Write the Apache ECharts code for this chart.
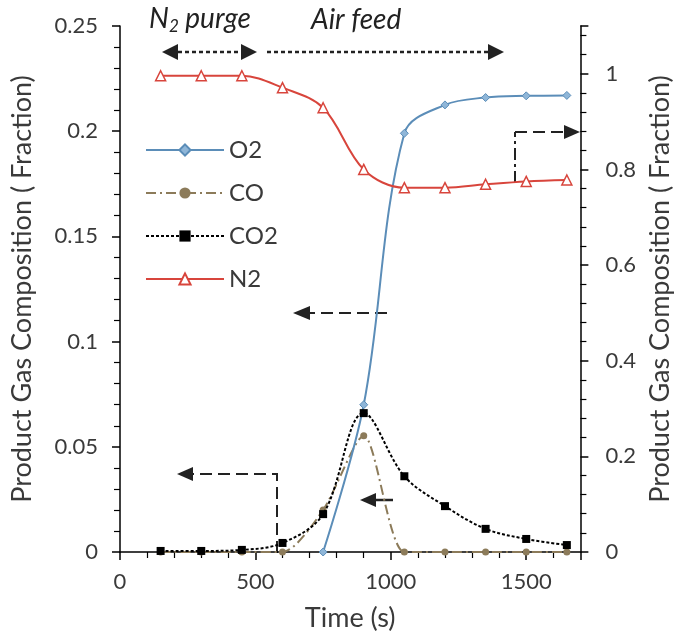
<!DOCTYPE html>
<html>
<head>
<meta charset="utf-8">
<script src="https://cdn.jsdelivr.net/npm/echarts@6/dist/echarts.min.js"></script>
<style>
  html, body { margin: 0; padding: 0; background: #fff; }
  #chart { width: 682px; height: 637px; }
</style>
</head>
<body>
<div id="chart"></div>
<script>
const time = [150, 300, 450, 600, 750, 900, 1050, 1200, 1350, 1500, 1650]
const o2 = [null, null, null, null, 0, 0.070, 0.199, 0.2125, 0.216, 0.2168, 0.217]
const co = [0, 0, 0, 0, 0.020, 0.0553, 0, 0, 0, 0, 0]
const co2 = [0.0005, 0.0005, 0.001, 0.0043, 0.018, 0.066, 0.036, 0.0218, 0.011, 0.0062, 0.0033]
const n2 = [0.996, 0.996, 0.996, 0.971, 0.929, 0.80, 0.762, 0.762, 0.769, 0.775, 0.778]

const pairs = ys => time.map((t, i) => [t, ys[i]]).filter(p => p[1] !== null)

const font = 'Lato, "Open Sans", sans-serif'
const ink = '#222'
const txt = '#3a3a3a'

function head (x, y, dir, l, h) {
  // filled arrow head, tip at (x, y)
  const pts = dir === 'left'
    ? [[x, y], [x + l, y - h], [x + l, y + h]]
    : [[x, y], [x - l, y - h], [x - l, y + h]]
  return { type: 'polygon', shape: { points: pts }, style: { fill: ink } }
}
function path (pts, dash, w) {
  return { type: 'polyline', shape: { points: pts }, style: { stroke: ink, lineWidth: w || 2, lineDash: dash, fill: null } }
}

const dom = document.getElementById('chart')
const myChart = echarts.init(dom)
const axisBase = {
  axisLine: { show: true, lineStyle: { color: '#000', width: 1.5 } },
  axisTick: { show: true, length: 8, lineStyle: { color: '#000', width: 1.5 } },
  minorTick: { show: true, splitNumber: 5, length: 6, lineStyle: { color: '#000', width: 1.2 } },
  splitLine: { show: false },
  axisLabel: { color: txt, fontSize: 22, fontFamily: font, showMaxLabel: false },
  nameTextStyle: { color: txt, fontSize: 27, fontFamily: font }
}
const option = {
  animation: false,
  grid: { left: 120, right: 85, top: 26, bottom: 83 },
  xAxis: Object.assign({}, axisBase, {
    type: 'value', min: 0, max: 1700, interval: 500,
    axisLabel: Object.assign({}, axisBase.axisLabel, { margin: 19, formatter: v => String(v) }),
    name: 'Time (s)', nameLocation: 'middle', nameGap: 53
  }),
  yAxis: [
    Object.assign({}, axisBase, {
      type: 'value', min: 0, max: 0.25, interval: 0.05,
      axisLabel: Object.assign({}, axisBase.axisLabel, { showMaxLabel: true, margin: 22 }),
      name: 'Product Gas Composition ( Fraction)', nameLocation: 'middle', nameGap: 84
    }),
    Object.assign({}, axisBase, {
      type: 'value', min: 0, max: 1.1, interval: 0.2, position: 'right',
      axisLabel: Object.assign({}, axisBase.axisLabel, { margin: 25 }),
      name: 'Product Gas Composition ( Fraction)', nameLocation: 'middle', nameGap: 52,
      nameRotate: 90
    })
  ],
  legend: {
    orient: 'vertical', left: 140, top: 132,
    itemWidth: 78, itemHeight: 14, itemGap: 17,
    textStyle: { color: txt, fontSize: 24, lineHeight: 26, fontFamily: font },
    data: ['O2', 'CO', 'CO2', 'N2']
  },
  series: [
    {
      name: 'O2', type: 'line', data: pairs(o2), smooth: 0.35, z: 3,
      symbol: 'diamond', symbolSize: 8,
      lineStyle: { color: '#5b8db8', width: 2 },
      itemStyle: { color: '#8fb6d8', borderColor: '#5b8db8', borderWidth: 1 }
    },
    {
      name: 'CO', type: 'line', data: pairs(co), smooth: 0.25, z: 2,
      symbol: 'circle', symbolSize: 7,
      lineStyle: { color: '#8c7b5a', width: 2, type: [10, 4, 2, 4] },
      itemStyle: { color: '#8c7b5a' }
    },
    {
      name: 'CO2', type: 'line', data: pairs(co2), smooth: 0.35, z: 4,
      symbol: 'rect', symbolSize: 8,
      lineStyle: { color: '#000', width: 2, type: [3, 2] },
      itemStyle: { color: '#000' }
    },
    {
      name: 'N2', type: 'line', yAxisIndex: 1, data: pairs(n2), smooth: 0.35, z: 3,
      symbol: 'triangle', symbolSize: 10,
      lineStyle: { color: '#d8453c', width: 2 },
      itemStyle: { color: '#fff', borderColor: '#d8453c', borderWidth: 1.5 }
    }
  ],
  graphic: [
    {
      type: 'text', left: 149, top: 5,
      style: {
        text: '{i|N}{s|2}{i| purge}', fill: ink,
        rich: {
          i: { fontSize: 28, fontStyle: 'italic', fontFamily: font, fill: ink },
          s: { fontSize: 17, fontStyle: 'italic', fontFamily: font, fill: ink, padding: [15, 0, 0, 0] }
        }
      }
    },
    { type: 'text', left: 311, top: 6, style: { text: 'Air feed', fontSize: 28, fontStyle: 'italic', fontFamily: font, fill: ink } },
    path([[178, 52], [242, 52]], [4, 3], 2.5), head(162, 52, 'left', 16, 8), head(257, 52, 'right', 16, 8),
    path([[267, 52], [488, 52]], [4, 3], 2.5), head(504, 52, 'right', 16, 8),
    path([[515, 183], [515, 132]], [12, 4, 3, 4]), path([[515, 132], [564, 132]], [12, 6]), head(580, 132, 'right', 16, 7),
    path([[387, 313], [310, 313]], [12, 6]), head(293, 313, 'left', 17, 7),
    path([[277, 553], [277, 474], [192, 474]], [12, 6]), head(177, 474, 'left', 16, 7),
    path([[393, 500], [375, 500]], null, 2.5), head(360, 500, 'left', 16, 7)
  ]
}
if (option && typeof option === 'object') {
  myChart.setOption(option, true)
}
</script>
</body>
</html>
